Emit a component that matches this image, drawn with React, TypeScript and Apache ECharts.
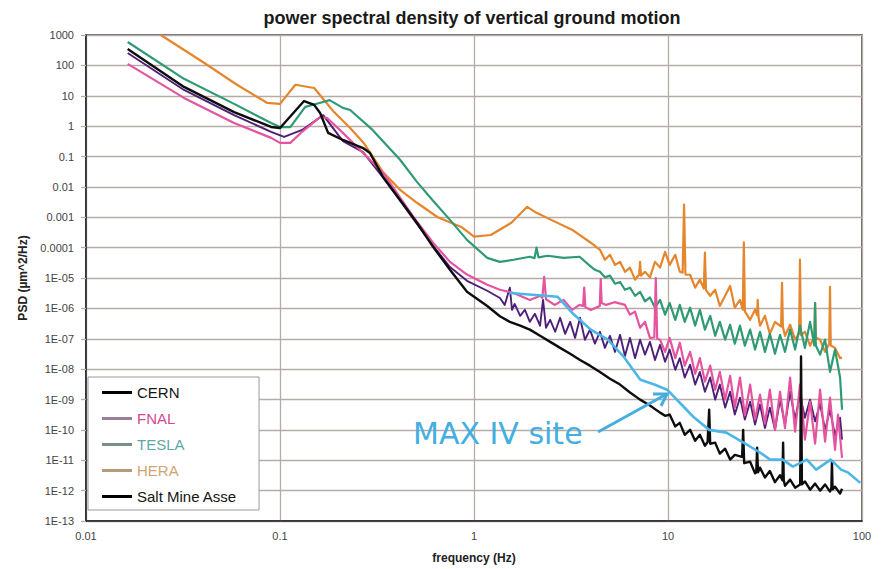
import React, { useEffect, useRef } from "react";
import * as echarts from "echarts";

// ---------- tick labels ----------
const xTickLabels = ["0.01", "0.1", "1", "10", "100"];
const yTickLabels = [
  "1E-13", "1E-12", "1E-11", "1E-10", "1E-09", "1E-08", "1E-07", "1E-06", "1E-05",
  "0.0001", "0.001", "0.01", "0.1", "1", "10", "100", "1000",
];

// ---------- series names ----------
const seriesNames = ["CERN", "FNAL", "TESLA", "HERA", "Salt Mine Asse"];

// ---------- data: [frequency (Hz), PSD (um^2/Hz)] ----------
const cernData: [number, number][] = [
  [0.0164, 347], [0.032, 19.5], [0.058, 2.9], [0.09, 0.94], [0.1, 0.87], [0.133, 6.7],
  [0.15, 5.0], [0.161, 2.7], [0.177, 0.6], [0.211, 0.35], [0.268, 0.19], [0.291, 0.13],
  [0.34, 0.021], [0.416, 0.0037], [0.508, 6.6e-4], [0.615, 1.07e-4], [0.752, 1.86e-5],
  [0.92, 3.5e-6], [1.17, 1.2e-6], [1.36, 5.5e-7], [1.53, 3.6e-7], [1.73, 2.7e-7], [1.94, 2.0e-7],
  [2.19, 1.25e-7], [2.47, 7.9e-8], [2.78, 5e-8], [3.13, 3.2e-8], [3.52, 2.0e-8], [3.96, 1.3e-8],
  [4.46, 8.1e-9], [5.02, 4.8e-9], [5.66, 3.1e-9], [6.37, 1.7e-9], [7.18, 9.9e-10], [8.07, 6.3e-10],
  [9.1, 3.7e-10], [9.66, 2.9e-10], [10.2, 3.2e-10], [10.9, 1.3e-10], [11.5, 1.7e-10],
  [12.2, 6.9e-11], [13.0, 1.0e-10], [13.8, 4.4e-11], [14.6, 6.9e-11], [15.5, 3e-11],
  [16.0, 4e-11], [16.3, 4.6e-10], [16.5, 3.5e-11], [17.5, 3.8e-11], [18.5, 1.65e-11],
  [19.7, 2.4e-11], [20.9, 1.05e-11], [22.1, 1.5e-11], [24.1, 1.3e-11], [24.4, 1e-10],
  [24.7, 8e-12], [26.5, 9e-12], [28.1, 3.7e-12], [28.5, 4e-12], [28.8, 2.6e-11], [29.1, 4e-12],
  [29.8, 5.7e-12], [31.6, 2.7e-12], [33.5, 4.4e-12], [35.6, 1.9e-12], [37.8, 3.2e-12],
  [38.9, 2.2e-12], [39.2, 3.8e-11], [39.5, 2.2e-12], [40.1, 1.45e-12], [42.6, 2.3e-12],
  [45.2, 1.25e-12], [48.0, 1.6e-12], [48.5, 2.6e-8], [49.0, 1.6e-12], [50.8, 2e-12],
  [54.0, 1.07e-12], [57.3, 1.7e-12], [60.8, 1.0e-12], [64.5, 1.6e-12], [68.4, 9.3e-13],
  [69.5, 1.2e-12], [70.0, 9e-12], [70.5, 1.1e-12], [72.6, 1.35e-12], [77.1, 8e-13],
  [78.9, 1.15e-12],
];

const saltMineData: [number, number][] = [
  [0.0164, 257], [0.032, 15.5], [0.058, 2.3], [0.09, 0.65], [0.105, 0.44], [0.13, 0.75],
  [0.167, 2.3], [0.211, 0.32], [0.268, 0.14], [0.34, 0.02], [0.416, 0.0035], [0.508, 6.0e-4],
  [0.615, 1.15e-4], [0.752, 2.3e-5], [0.92, 8.1e-6], [1.17, 3.8e-6], [1.36, 2.2e-6],
  [1.44, 1.3e-6], [1.53, 4.8e-6], [1.57, 9e-7], [1.62, 1.4e-6], [1.73, 5.7e-7], [1.83, 9e-7],
  [1.94, 3.6e-7], [2.06, 6.6e-7], [2.19, 2.7e-7], [2.27, 1.9e-6], [2.35, 2.3e-7], [2.47, 4.2e-7],
  [2.62, 1.7e-7], [2.78, 4.9e-7], [2.95, 1.45e-7], [3.13, 3.6e-7], [3.32, 1.07e-7], [3.52, 4.9e-7],
  [3.73, 9.3e-8], [3.96, 2e-7], [4.2, 6.9e-8], [4.46, 1.7e-7], [4.73, 5e-8], [5.02, 1.25e-7],
  [5.33, 3.7e-8], [5.66, 1.35e-7], [6.0, 2.7e-8], [6.37, 1.07e-7], [6.76, 2.3e-8], [7.18, 9.3e-8],
  [7.61, 3e-8], [8.07, 7.9e-8], [8.57, 2e-8], [9.1, 6.3e-8], [9.66, 1.75e-8], [10.2, 4.4e-8],
  [10.9, 9.5e-9], [11.5, 2.3e-8], [12.2, 5.3e-9], [13.0, 1.4e-8], [13.8, 3.1e-9], [14.6, 8.1e-9],
  [15.5, 1.8e-9], [16.5, 5.3e-9], [17.5, 9.9e-10], [18.5, 3.1e-9], [19.7, 5.4e-10], [20.9, 1.8e-9],
  [22.1, 3.2e-10], [23.5, 1.15e-9], [24.9, 2.2e-10], [26.5, 8.5e-10], [28.1, 1.5e-10],
  [29.8, 6.8e-10], [31.6, 1.15e-10], [33.5, 5.4e-10], [35.6, 1e-10], [37.8, 9.9e-10],
  [40.1, 1.5e-10], [42.6, 1.8e-9], [45.2, 2.2e-10], [47.9, 1.45e-9], [50.8, 2.5e-10],
  [54.0, 9.9e-10], [57.3, 1.9e-10], [60.8, 7.2e-10], [64.5, 1e-10], [68.4, 4.6e-10],
  [72.6, 6.4e-11], [77.1, 2.5e-10], [78.9, 4.8e-11],
];

const fnalData: [number, number][] = [
  [0.0164, 112], [0.032, 8.5], [0.058, 1.27], [0.09, 0.41], [0.1, 0.28], [0.113, 0.28],
  [0.13, 0.65], [0.161, 2.0], [0.175, 1.85], [0.211, 0.6], [0.268, 0.13], [0.34, 0.029],
  [0.416, 0.0044], [0.508, 7.1e-4], [0.615, 1.45e-4], [0.752, 3.4e-5], [0.92, 1.3e-5],
  [1.17, 6e-6], [1.36, 4.1e-6], [1.6, 3.2e-6], [1.94, 1.9e-6], [2.2, 2.6e-6], [2.25, 2.2e-6],
  [2.3, 1.1e-5], [2.35, 2.0e-6], [2.6, 1.3e-6], [2.9, 1.9e-6], [3.2, 8.9e-7], [3.5, 1.3e-6],
  [3.65, 1.2e-6], [3.7, 4.8e-6], [3.75, 1.1e-6], [4.0, 8.9e-7], [4.45, 1.2e-6], [4.5, 9.3e-6],
  [4.55, 1.5e-6], [4.8, 1.3e-6], [5.3, 1.6e-6], [6.0, 1.3e-6], [6.37, 6.2e-7], [6.76, 7.8e-7],
  [7.18, 2.3e-7], [7.61, 3.6e-7], [8.07, 1.07e-7], [8.5, 1.1e-7], [8.65, 1e-5], [8.8, 1e-7],
  [9.1, 9.3e-8], [9.66, 3.7e-8], [10.2, 1.07e-7], [10.9, 2.3e-8], [11.5, 7.4e-8], [12.2, 1.3e-8],
  [13.0, 3.7e-8], [13.8, 7.1e-9], [14.6, 2.3e-8], [15.5, 3.9e-9], [16.5, 1.3e-8], [17.5, 2.1e-9],
  [18.5, 8.1e-9], [19.7, 9.9e-10], [20.9, 6e-9], [22.1, 5.4e-10], [23.5, 5.3e-9], [24.9, 3e-10],
  [26.5, 3.1e-9], [28.1, 2.2e-10], [29.8, 1.45e-9], [31.6, 1.6e-10], [33.5, 2.1e-9],
  [35.6, 1e-10], [37.8, 1.8e-9], [40.1, 1.15e-10], [42.6, 5.3e-9], [45.2, 8.8e-11],
  [47.9, 3.1e-9], [50.8, 4.8e-11], [54.0, 8.5e-10], [57.3, 3.5e-11], [60.8, 2.1e-9],
  [64.5, 4.1e-11], [68.4, 1.15e-9], [72.6, 2.2e-11], [75.2, 3.2e-10], [78.9, 1.2e-11],
];

const teslaData: [number, number][] = [
  [0.0164, 590], [0.032, 36], [0.058, 5.4], [0.09, 1.27], [0.1, 0.93], [0.113, 0.93],
  [0.135, 4.3], [0.16, 5.8], [0.18, 7.2], [0.211, 4.0], [0.23, 3.4], [0.3, 0.75],
  [0.416, 0.078], [0.508, 0.0146], [0.615, 0.0035], [0.752, 8.2e-4], [0.92, 1.8e-4],
  [1.17, 4.6e-5], [1.36, 3.4e-5], [1.6, 4e-5], [1.94, 5e-5], [2.05, 4.5e-5], [2.1, 1e-4],
  [2.15, 4.8e-5], [2.4, 5.4e-5], [2.9, 4.6e-5], [3.5, 5e-5], [3.96, 2.5e-5], [4.2, 1.86e-5],
  [4.46, 1.6e-5], [4.73, 1.05e-5], [5.02, 1.2e-5], [5.33, 6.5e-6], [5.66, 7.4e-6], [6.0, 4.1e-6],
  [6.37, 4.8e-6], [6.76, 2.6e-6], [7.18, 3.5e-6], [7.61, 1.7e-6], [8.07, 2.3e-6], [8.57, 1.05e-6],
  [9.1, 1.9e-6], [9.66, 6.2e-7], [10.2, 1.5e-6], [10.9, 4.2e-7], [11.5, 1.3e-6], [12.2, 3.6e-7],
  [13.0, 1.05e-6], [13.8, 2.7e-7], [14.6, 9e-7], [15.5, 2e-7], [16.5, 5.7e-7], [17.5, 1.25e-7],
  [18.5, 3.6e-7], [19.7, 9.3e-8], [20.9, 2.9e-7], [22.1, 6.9e-8], [23.5, 2.7e-7], [24.9, 5.9e-8],
  [26.5, 2e-7], [28.1, 4.4e-8], [29.8, 1.7e-7], [31.6, 3.7e-8], [33.5, 1.45e-7], [35.6, 3.2e-8],
  [37.8, 1.35e-7], [40.1, 3.7e-8], [42.6, 2e-7], [45.2, 4.4e-8], [47.9, 2.7e-7], [50.8, 5e-8],
  [54.0, 3.6e-7], [56.8, 6e-8], [57.3, 1.5e-6], [57.8, 6e-8], [60.8, 3e-8], [64.5, 9.3e-8],
  [68.4, 8.1e-9], [72.6, 4.4e-8], [77.1, 5.3e-9], [78.9, 4.6e-10],
];

const heraData: [number, number][] = [
  [0.0243, 1000], [0.04, 129], [0.06, 23], [0.086, 5.8], [0.1, 5.4], [0.12, 23], [0.15, 18],
  [0.165, 8.6], [0.19, 2.9], [0.23, 0.87], [0.27, 0.28], [0.34, 0.03], [0.416, 0.008],
  [0.508, 0.003], [0.65, 0.001], [0.86, 4.8e-4], [1.0, 2.3e-4], [1.22, 2.6e-4], [1.56, 6.6e-4],
  [1.88, 0.0022], [2.1, 0.0014], [2.5, 8.2e-4], [3.2, 3.9e-4], [4.0, 1.45e-4],
  [4.46, 8.5e-5], [4.73, 4.0e-5], [5.02, 5.8e-5], [5.33, 2.7e-5], [5.66, 3.4e-5], [6.0, 1.6e-5],
  [6.37, 2.2e-5], [6.76, 8.8e-6], [7.1, 1.3e-5], [7.18, 3.4e-5], [7.25, 1.2e-5], [7.61, 1.6e-5],
  [8.07, 1.05e-5], [8.57, 3.4e-5], [9.1, 2.2e-5], [9.66, 7.2e-5], [10.2, 2.7e-5], [10.9, 5.8e-5],
  [11.5, 1.6e-5], [11.9, 1.5e-5], [12.1, 2.6e-3], [12.3, 1.3e-5], [13.0, 1.28e-5], [13.8, 4.8e-6],
  [14.6, 8.8e-6], [15.3, 4.5e-6], [15.5, 6.8e-5], [15.7, 4e-6], [16.5, 2.6e-6], [17.5, 4.1e-6],
  [18.5, 1.2e-6], [19.7, 2.6e-6], [20.9, 5.5e-6], [22.1, 1.05e-6], [23.5, 1.9e-6], [24.3, 9e-7],
  [24.6, 1.5e-4], [24.9, 8e-7], [26.5, 4.2e-7], [28.1, 9e-7], [28.8, 6e-7], [29.0, 1.9e-6],
  [29.3, 5e-7], [29.8, 2.7e-7], [31.6, 5.7e-7], [33.5, 1.45e-7], [35.6, 3.6e-7], [38.3, 2.5e-7],
  [38.7, 6.9e-6], [39.1, 2.5e-7], [40.1, 1.25e-7], [42.6, 2.9e-7], [45.2, 9.3e-8], [47.4, 1.5e-7],
  [47.9, 4e-5], [48.4, 1.3e-7], [50.8, 1.7e-7], [54.0, 5.9e-8], [56.8, 1.2e-7], [57.3, 1.5e-6],
  [57.8, 1.1e-7], [60.8, 9.3e-8], [64.5, 3.7e-8], [67.8, 7e-8], [68.4, 5.1e-6], [69.0, 6e-8],
  [72.6, 5e-8], [77.1, 2.3e-8], [78.9, 2.4e-8],
];

const maxIvData: [number, number][] = [
  [1.53, 3.2e-6], [2.0, 2.8e-6], [2.7, 2.4e-6], [3.2, 7.2e-7], [4.0, 2e-7], [4.9, 9.3e-8],
  [5.9, 2.6e-8], [7.2, 4.5e-9], [8.5, 3.1e-9], [9.9, 2.1e-9], [11.5, 7.8e-10], [13.5, 2.7e-10],
  [16.3, 1.0e-10], [20, 8.1e-11], [24.5, 3.8e-11], [29.8, 1.8e-11], [33.6, 1.05e-11],
  [39, 1.05e-11], [44, 6.2e-12], [52, 1.05e-11], [58, 4.9e-12], [69, 1.05e-11], [78, 4.9e-12],
  [85, 3.9e-12], [98, 1.8e-12],
];

const annotationText = "MAX IV site";
const titleText = "power spectral density of vertical ground motion";

const FONT = '"Liberation Sans", Arial, sans-serif';
const GRID_COLOR = "#b7aba7";

export default function App() {
  const ref = useRef<HTMLDivElement>(null);

  useEffect(() => {
    if (!ref.current) return;
    const chart = echarts.init(ref.current, undefined, { renderer: "svg" });

    const line = (name: string, data: [number, number][], color: string, width: number) => ({
      name,
      type: "line",
      data,
      xAxisIndex: 0,
      yAxisIndex: 0,
      showSymbol: false,
      symbol: "none",
      clip: true,
      color,
      lineStyle: { color, width, join: "round" },
      emphasis: { disabled: true },
    });

    const legendColors = ["#000000", "#9c7f98", "#7c8c89", "#b39a78", "#000000"];
    const legendTextColors = ["#151515", "#cf4a92", "#5ea8a6", "#d2a473", "#151515"];

    chart.setOption({
      animation: false,
      backgroundColor: "#ffffff",
      grid: {
        left: 86,
        top: 35,
        right: 20,
        bottom: 47,
        show: true,
        borderColor: "#3a3a3a",
        borderWidth: 1.5,
        backgroundColor: "transparent",
      },
      xAxis: {
        type: "log",
        logBase: 10,
        min: 0.01,
        max: 100,
        axisLine: { show: true, onZero: false, lineStyle: { color: "#222", width: 1.5 } },
        axisTick: { show: false },
        splitLine: { show: true, lineStyle: { color: GRID_COLOR, width: 1.3 } },
        axisLabel: {
          color: "#444",
          fontSize: 11,
          fontFamily: FONT,
          margin: 9,
          formatter: (v: number) => xTickLabels[Math.round(Math.log10(v)) + 2] ?? "",
        },
        name: "frequency (Hz)",
        nameLocation: "middle",
        nameGap: 31,
        nameTextStyle: { color: "#222", fontSize: 12, fontWeight: "bold", fontFamily: FONT },
      },
      yAxis: [
        {
          type: "log",
          logBase: 10,
          min: 1e-13,
          max: 1000,
          position: "left",
          axisLine: { show: true, onZero: false, lineStyle: { color: "#222", width: 1.5 } },
          axisTick: { show: false },
          axisLabel: { show: false },
          splitLine: { show: false },
        },
        {
          type: "value",
          min: -13,
          max: 3,
          interval: 1,
          position: "left",
          axisLine: { show: false, onZero: false },
          axisTick: { show: true, length: 5, lineStyle: { color: GRID_COLOR, width: 1.3 } },
          splitLine: { show: true, lineStyle: { color: GRID_COLOR, width: 1.3 } },
          axisLabel: {
            color: "#444",
            fontSize: 11,
            fontFamily: FONT,
            margin: 12,
            formatter: (v: number) => yTickLabels[Math.round(v) + 13] ?? "",
          },
          name: "PSD (\u00b5m^2/Hz)",
          nameLocation: "middle",
          nameGap: 57,
          nameTextStyle: { color: "#222", fontSize: 12, fontWeight: "bold", fontFamily: FONT },
        },
      ],
      legend: {
        orient: "vertical",
        left: 88,
        top: 377,
        padding: [8, 22, 6, 14],
        itemGap: 11,
        itemWidth: 30,
        itemHeight: 3,
        icon: "rect",
        backgroundColor: "#ffffff",
        borderColor: "#9a9a9a",
        borderWidth: 1,
        selectedMode: false,
        textStyle: { fontSize: 15, fontFamily: FONT },
        data: seriesNames.map((n, i) => ({
          name: n,
          itemStyle: { color: legendColors[i] },
          textStyle: { color: legendTextColors[i], fontSize: 15, fontFamily: FONT },
        })),
      },
      series: [
        line(seriesNames[3], heraData, "#e5852c", 2.2),
        line(seriesNames[2], teslaData, "#2f9a74", 2.2),
        line(seriesNames[4], saltMineData, "#4e1f78", 1.9),
        line(seriesNames[1], fnalData, "#e5559f", 2.2),
        line(seriesNames[0], cernData, "#0d0d0d", 2.4),
        line("MAX IV site", maxIvData, "#4db6e8", 2.6),
      ],
      graphic: [
        {
          type: "text",
          x: 472,
          y: 18,
          style: {
            text: titleText,
            fill: "#1a1a1a",
            font: `bold 18px ${FONT}`,
            textAlign: "center",
            textVerticalAlign: "middle",
          },
        },
        {
          type: "text",
          x: 413,
          y: 433,
          z: 100,
          style: {
            text: annotationText,
            fill: "#45aee0",
            font: `30px "DejaVu Sans", sans-serif`,
            textAlign: "left",
            textVerticalAlign: "middle",
          },
        },
        {
          type: "line",
          z: 100,
          shape: { x1: 598, y1: 432, x2: 665, y2: 395 },
          style: { stroke: "#45aee0", lineWidth: 3 },
        },
        {
          type: "polyline",
          z: 100,
          shape: { points: [[653, 394], [667, 394], [661, 406]] },
          style: { stroke: "#45aee0", lineWidth: 3, fill: null },
        },
      ],
    });

    return () => chart.dispose();
  }, []);

  return (
    <div
      ref={ref}
      style={{ position: "fixed", left: 0, top: 0, width: 882, height: 569, background: "#fff" }}
    />
  );
}
